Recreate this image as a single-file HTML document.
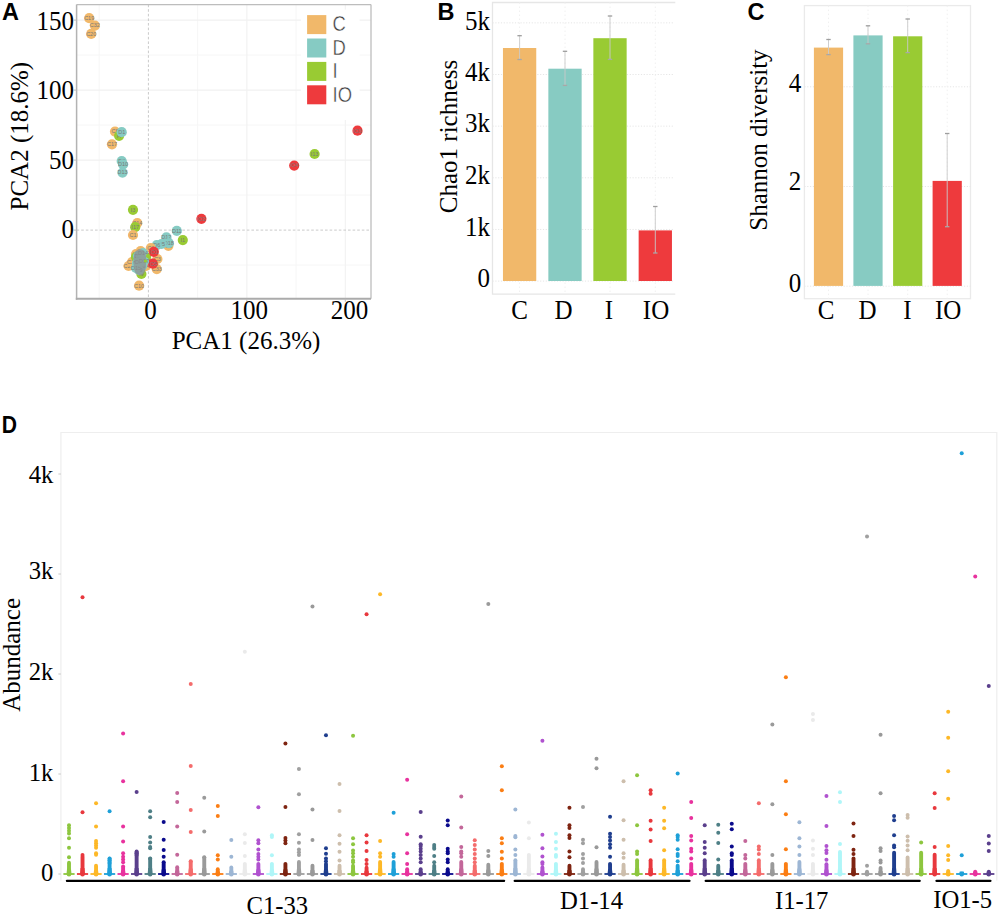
<!DOCTYPE html>
<html><head><meta charset="utf-8"><style>html,body{margin:0;padding:0;background:#fff;width:1000px;height:917px;overflow:hidden}svg{display:block}</style></head><body>
<svg width="1000" height="917" viewBox="0 0 1000 917">
<rect x="0" y="0" width="1000" height="917" fill="#fff"/>
<line x1="99.18" y1="4.6" x2="99.18" y2="298.8" stroke="#F6F6F6" stroke-width="1"/>
<line x1="197.62" y1="4.6" x2="197.62" y2="298.8" stroke="#F6F6F6" stroke-width="1"/>
<line x1="296.08" y1="4.6" x2="296.08" y2="298.8" stroke="#F6F6F6" stroke-width="1"/>
<line x1="76.6" y1="265.10" x2="371.0" y2="265.10" stroke="#F6F6F6" stroke-width="1"/>
<line x1="76.6" y1="195.10" x2="371.0" y2="195.10" stroke="#F6F6F6" stroke-width="1"/>
<line x1="76.6" y1="125.10" x2="371.0" y2="125.10" stroke="#F6F6F6" stroke-width="1"/>
<line x1="76.6" y1="55.10" x2="371.0" y2="55.10" stroke="#F6F6F6" stroke-width="1"/>
<line x1="246.85" y1="4.6" x2="246.85" y2="298.8" stroke="#F1F1F1" stroke-width="1.1"/>
<line x1="345.30" y1="4.6" x2="345.30" y2="298.8" stroke="#F1F1F1" stroke-width="1.1"/>
<line x1="76.6" y1="160.10" x2="371.0" y2="160.10" stroke="#F1F1F1" stroke-width="1.1"/>
<line x1="76.6" y1="90.10" x2="371.0" y2="90.10" stroke="#F1F1F1" stroke-width="1.1"/>
<line x1="76.6" y1="20.10" x2="371.0" y2="20.10" stroke="#F1F1F1" stroke-width="1.1"/>
<line x1="148.40" y1="4.6" x2="148.40" y2="298.8" stroke="#CACACA" stroke-width="1" stroke-dasharray="2.6 2.0"/>
<line x1="76.6" y1="230.10" x2="371.0" y2="230.10" stroke="#CACACA" stroke-width="1" stroke-dasharray="2.6 2.0"/>
<rect x="301" y="9.6" width="58.6" height="110.4" fill="#fff"/>
<rect x="307.1" y="15.10" width="19.2" height="19" fill="#F1B86A"/>
<text transform="translate(332.6,31.40) scale(0.9,1.04)" font-size="20.5" fill="#3c3c3c" stroke="#fff" stroke-width="0.4" font-family='"Liberation Sans", sans-serif'>C</text>
<rect x="307.1" y="38.50" width="19.2" height="19" fill="#86CBC3"/>
<text transform="translate(332.6,54.80) scale(0.9,1.04)" font-size="20.5" fill="#3c3c3c" stroke="#fff" stroke-width="0.4" font-family='"Liberation Sans", sans-serif'>D</text>
<rect x="307.1" y="61.90" width="19.2" height="19" fill="#99CB33"/>
<text transform="translate(332.6,78.20) scale(0.9,1.04)" font-size="20.5" fill="#3c3c3c" stroke="#fff" stroke-width="0.4" font-family='"Liberation Sans", sans-serif'>I</text>
<rect x="307.1" y="85.30" width="19.2" height="19" fill="#EE3A3D"/>
<text transform="translate(332.6,101.60) scale(0.9,1.04)" font-size="20.5" fill="#3c3c3c" stroke="#fff" stroke-width="0.4" font-family='"Liberation Sans", sans-serif'>IO</text>
<line x1="76.6" y1="4.6" x2="371.0" y2="4.6" stroke="#BDBDBD" stroke-width="1.3"/>
<line x1="371.0" y1="4.6" x2="371.0" y2="298.8" stroke="#BDBDBD" stroke-width="1.3"/>
<line x1="76.6" y1="4.6" x2="76.6" y2="299.8" stroke="#B3B3B3" stroke-width="1.5"/>
<line x1="75.8" y1="298.8" x2="371.0" y2="298.8" stroke="#ABABAB" stroke-width="2"/>
<line x1="73.6" y1="230.10" x2="76.6" y2="230.10" stroke="#BBBBBB" stroke-width="1"/>
<line x1="73.6" y1="160.10" x2="76.6" y2="160.10" stroke="#BBBBBB" stroke-width="1"/>
<line x1="73.6" y1="90.10" x2="76.6" y2="90.10" stroke="#BBBBBB" stroke-width="1"/>
<line x1="73.6" y1="20.10" x2="76.6" y2="20.10" stroke="#BBBBBB" stroke-width="1"/>
<line x1="148.40" y1="298.8" x2="148.40" y2="301.8" stroke="#BBBBBB" stroke-width="1"/>
<line x1="246.85" y1="298.8" x2="246.85" y2="301.8" stroke="#BBBBBB" stroke-width="1"/>
<line x1="345.30" y1="298.8" x2="345.30" y2="301.8" stroke="#BBBBBB" stroke-width="1"/>
<circle cx="89.2" cy="18.2" r="5.1" fill="#F1B86A"/>
<text x="89.20" y="20.00" font-size="5.5" text-anchor="middle" fill="#7a7a7a" font-family='"Liberation Sans", sans-serif' font-weight="normal" >C19</text>
<circle cx="94.9" cy="25.6" r="5.1" fill="#F1B86A"/>
<text x="94.90" y="27.40" font-size="5.5" text-anchor="middle" fill="#7a7a7a" font-family='"Liberation Sans", sans-serif' font-weight="normal" >C32</text>
<circle cx="91.2" cy="33.9" r="5.1" fill="#F1B86A"/>
<text x="91.20" y="35.70" font-size="5.5" text-anchor="middle" fill="#7a7a7a" font-family='"Liberation Sans", sans-serif' font-weight="normal" >C20</text>
<circle cx="115" cy="131.6" r="5.1" fill="#F1B86A"/>
<text x="115.00" y="133.40" font-size="5.5" text-anchor="middle" fill="#7a7a7a" font-family='"Liberation Sans", sans-serif' font-weight="normal" >C8</text>
<circle cx="119.1" cy="135.8" r="5.1" fill="#99CB33"/>
<text x="119.10" y="137.60" font-size="5.5" text-anchor="middle" fill="#7a7a7a" font-family='"Liberation Sans", sans-serif' font-weight="normal" >I4</text>
<circle cx="121.7" cy="132.2" r="5.1" fill="#86CBC3"/>
<text x="121.70" y="134.00" font-size="5.5" text-anchor="middle" fill="#7a7a7a" font-family='"Liberation Sans", sans-serif' font-weight="normal" >D1</text>
<circle cx="112" cy="144.3" r="5.1" fill="#F1B86A"/>
<text x="112.00" y="146.10" font-size="5.5" text-anchor="middle" fill="#7a7a7a" font-family='"Liberation Sans", sans-serif' font-weight="normal" >C17</text>
<circle cx="121.7" cy="161" r="5.1" fill="#86CBC3"/>
<text x="121.70" y="162.80" font-size="5.5" text-anchor="middle" fill="#7a7a7a" font-family='"Liberation Sans", sans-serif' font-weight="normal" >D2</text>
<circle cx="123.1" cy="164.5" r="5.1" fill="#86CBC3"/>
<text x="123.10" y="166.30" font-size="5.5" text-anchor="middle" fill="#7a7a7a" font-family='"Liberation Sans", sans-serif' font-weight="normal" >D10</text>
<circle cx="122.5" cy="172.6" r="5.1" fill="#86CBC3"/>
<text x="122.50" y="174.40" font-size="5.5" text-anchor="middle" fill="#7a7a7a" font-family='"Liberation Sans", sans-serif' font-weight="normal" >D13</text>
<circle cx="357.5" cy="130.7" r="5.1" fill="#EE3A3D"/>
<text x="357.50" y="132.50" font-size="5.5" text-anchor="middle" fill="#7a7a7a" font-family='"Liberation Sans", sans-serif' font-weight="normal" >IO3</text>
<circle cx="314.6" cy="154" r="5.1" fill="#99CB33"/>
<text x="314.60" y="155.80" font-size="5.5" text-anchor="middle" fill="#7a7a7a" font-family='"Liberation Sans", sans-serif' font-weight="normal" >I13</text>
<circle cx="294.2" cy="165.6" r="5.1" fill="#EE3A3D"/>
<text x="294.20" y="167.40" font-size="5.5" text-anchor="middle" fill="#7a7a7a" font-family='"Liberation Sans", sans-serif' font-weight="normal" >IO4</text>
<circle cx="201.4" cy="218.8" r="5.1" fill="#EE3A3D"/>
<text x="201.40" y="220.60" font-size="5.5" text-anchor="middle" fill="#7a7a7a" font-family='"Liberation Sans", sans-serif' font-weight="normal" >IO2</text>
<circle cx="133" cy="209.8" r="5.1" fill="#99CB33"/>
<text x="133.00" y="211.60" font-size="5.5" text-anchor="middle" fill="#7a7a7a" font-family='"Liberation Sans", sans-serif' font-weight="normal" >I3</text>
<circle cx="137.3" cy="223" r="5.1" fill="#F1B86A"/>
<text x="137.30" y="224.80" font-size="5.5" text-anchor="middle" fill="#7a7a7a" font-family='"Liberation Sans", sans-serif' font-weight="normal" >C14</text>
<circle cx="135.2" cy="227.2" r="5.1" fill="#99CB33"/>
<text x="135.20" y="229.00" font-size="5.5" text-anchor="middle" fill="#7a7a7a" font-family='"Liberation Sans", sans-serif' font-weight="normal" >I17</text>
<circle cx="133" cy="235" r="5.1" fill="#F1B86A"/>
<text x="133.00" y="236.80" font-size="5.5" text-anchor="middle" fill="#7a7a7a" font-family='"Liberation Sans", sans-serif' font-weight="normal" >C1</text>
<circle cx="168.4" cy="245.8" r="5.1" fill="#F1B86A"/>
<text x="168.40" y="247.60" font-size="5.5" text-anchor="middle" fill="#7a7a7a" font-family='"Liberation Sans", sans-serif' font-weight="normal" >C5</text>
<circle cx="176.8" cy="230.8" r="5.1" fill="#86CBC3"/>
<text x="176.80" y="232.60" font-size="5.5" text-anchor="middle" fill="#7a7a7a" font-family='"Liberation Sans", sans-serif' font-weight="normal" >D11</text>
<circle cx="182.8" cy="240.1" r="5.1" fill="#99CB33"/>
<text x="182.80" y="241.90" font-size="5.5" text-anchor="middle" fill="#7a7a7a" font-family='"Liberation Sans", sans-serif' font-weight="normal" >I1</text>
<circle cx="166.4" cy="237.4" r="5.1" fill="#86CBC3"/>
<text x="166.40" y="239.20" font-size="5.5" text-anchor="middle" fill="#7a7a7a" font-family='"Liberation Sans", sans-serif' font-weight="normal" >D12</text>
<circle cx="168.8" cy="243.2" r="5.1" fill="#86CBC3"/>
<text x="168.80" y="245.00" font-size="5.5" text-anchor="middle" fill="#7a7a7a" font-family='"Liberation Sans", sans-serif' font-weight="normal" >D18</text>
<circle cx="161.6" cy="244" r="5.1" fill="#86CBC3"/>
<text x="161.60" y="245.80" font-size="5.5" text-anchor="middle" fill="#7a7a7a" font-family='"Liberation Sans", sans-serif' font-weight="normal" >D5</text>
<circle cx="156.8" cy="245.2" r="5.1" fill="#86CBC3"/>
<text x="156.80" y="247.00" font-size="5.5" text-anchor="middle" fill="#7a7a7a" font-family='"Liberation Sans", sans-serif' font-weight="normal" >D6</text>
<circle cx="150.8" cy="248" r="5.1" fill="#F1B86A"/>
<text x="150.80" y="249.80" font-size="5.5" text-anchor="middle" fill="#7a7a7a" font-family='"Liberation Sans", sans-serif' font-weight="normal" >C6</text>
<circle cx="140.6" cy="251" r="5.1" fill="#F1B86A"/>
<text x="140.60" y="252.80" font-size="5.5" text-anchor="middle" fill="#7a7a7a" font-family='"Liberation Sans", sans-serif' font-weight="normal" >C9</text>
<circle cx="136" cy="254" r="5.1" fill="#F1B86A"/>
<text x="136.00" y="255.80" font-size="5.5" text-anchor="middle" fill="#7a7a7a" font-family='"Liberation Sans", sans-serif' font-weight="normal" >C2</text>
<circle cx="157.4" cy="259" r="5.1" fill="#F1B86A"/>
<text x="157.40" y="260.80" font-size="5.5" text-anchor="middle" fill="#7a7a7a" font-family='"Liberation Sans", sans-serif' font-weight="normal" >C3</text>
<circle cx="156.8" cy="269.1" r="5.1" fill="#F1B86A"/>
<text x="156.80" y="270.90" font-size="5.5" text-anchor="middle" fill="#7a7a7a" font-family='"Liberation Sans", sans-serif' font-weight="normal" >C33</text>
<circle cx="128.6" cy="266" r="5.1" fill="#F1B86A"/>
<text x="128.60" y="267.80" font-size="5.5" text-anchor="middle" fill="#7a7a7a" font-family='"Liberation Sans", sans-serif' font-weight="normal" >C27</text>
<circle cx="132" cy="262" r="5.1" fill="#F1B86A"/>
<text x="132.00" y="263.80" font-size="5.5" text-anchor="middle" fill="#7a7a7a" font-family='"Liberation Sans", sans-serif' font-weight="normal" >C28</text>
<circle cx="146" cy="266" r="5.1" fill="#F1B86A"/>
<text x="146.00" y="267.80" font-size="5.5" text-anchor="middle" fill="#7a7a7a" font-family='"Liberation Sans", sans-serif' font-weight="normal" >C4</text>
<circle cx="139.1" cy="285.7" r="5.1" fill="#F1B86A"/>
<text x="139.10" y="287.50" font-size="5.5" text-anchor="middle" fill="#7a7a7a" font-family='"Liberation Sans", sans-serif' font-weight="normal" >C10</text>
<circle cx="141.4" cy="274" r="5.1" fill="#99CB33"/>
<text x="141.40" y="275.80" font-size="5.5" text-anchor="middle" fill="#7a7a7a" font-family='"Liberation Sans", sans-serif' font-weight="normal" >I9</text>
<circle cx="146" cy="257" r="5.1" fill="#99CB33"/>
<text x="146.00" y="258.80" font-size="5.5" text-anchor="middle" fill="#7a7a7a" font-family='"Liberation Sans", sans-serif' font-weight="normal" >I5</text>
<circle cx="136" cy="257" r="5.1" fill="#99CB33"/>
<text x="136.00" y="258.80" font-size="5.5" text-anchor="middle" fill="#7a7a7a" font-family='"Liberation Sans", sans-serif' font-weight="normal" >I6</text>
<circle cx="153.8" cy="251.8" r="5.1" fill="#EE3A3D"/>
<text x="153.80" y="253.60" font-size="5.5" text-anchor="middle" fill="#7a7a7a" font-family='"Liberation Sans", sans-serif' font-weight="normal" >IO1</text>
<circle cx="152.8" cy="263.7" r="5.1" fill="#EE3A3D"/>
<text x="152.80" y="265.50" font-size="5.5" text-anchor="middle" fill="#7a7a7a" font-family='"Liberation Sans", sans-serif' font-weight="normal" >IO5</text>
<circle cx="138" cy="256" r="5.1" fill="#86CBC3"/>
<text x="138.00" y="257.80" font-size="5.5" text-anchor="middle" fill="#7a7a7a" font-family='"Liberation Sans", sans-serif' font-weight="normal" >D3</text>
<circle cx="141" cy="259" r="5.1" fill="#86CBC3"/>
<text x="141.00" y="260.80" font-size="5.5" text-anchor="middle" fill="#7a7a7a" font-family='"Liberation Sans", sans-serif' font-weight="normal" >D4</text>
<circle cx="137" cy="263" r="5.1" fill="#86CBC3"/>
<text x="137.00" y="264.80" font-size="5.5" text-anchor="middle" fill="#7a7a7a" font-family='"Liberation Sans", sans-serif' font-weight="normal" >D7</text>
<circle cx="142" cy="266" r="5.1" fill="#86CBC3"/>
<text x="142.00" y="267.80" font-size="5.5" text-anchor="middle" fill="#7a7a7a" font-family='"Liberation Sans", sans-serif' font-weight="normal" >D8</text>
<circle cx="139" cy="270" r="5.1" fill="#86CBC3"/>
<text x="139.00" y="271.80" font-size="5.5" text-anchor="middle" fill="#7a7a7a" font-family='"Liberation Sans", sans-serif' font-weight="normal" >D9</text>
<circle cx="143" cy="253" r="5.1" fill="#86CBC3"/>
<text x="143.00" y="254.80" font-size="5.5" text-anchor="middle" fill="#7a7a7a" font-family='"Liberation Sans", sans-serif' font-weight="normal" >D14</text>
<circle cx="136" cy="268" r="5.1" fill="#86CBC3"/>
<text x="136.00" y="269.80" font-size="5.5" text-anchor="middle" fill="#7a7a7a" font-family='"Liberation Sans", sans-serif' font-weight="normal" >D15</text>
<circle cx="140" cy="262" r="5.1" fill="#86CBC3"/>
<text x="140.00" y="263.80" font-size="5.5" text-anchor="middle" fill="#7a7a7a" font-family='"Liberation Sans", sans-serif' font-weight="normal" >D16</text>
<circle cx="144" cy="261" r="5.1" fill="#86CBC3"/>
<text x="144.00" y="262.80" font-size="5.5" text-anchor="middle" fill="#7a7a7a" font-family='"Liberation Sans", sans-serif' font-weight="normal" >D17</text>
<path d="M135 252 C138 248 143 249 145 252 C147 258 146 266 145 272 C143 276 137 276 135 272 C133 266 133 257 135 252 Z" fill="#8f8f8f" opacity="0.7"/>
<circle cx="148" cy="256" r="2" fill="#99CB33"/><circle cx="145.5" cy="261" r="1.6" fill="#99CB33"/>
<text transform="translate(74.00,238.00) scale(1.0,1.1)" font-size="25" text-anchor="end" fill="#000" font-family='"Liberation Serif", serif'>0</text>
<text transform="translate(74.00,168.50) scale(1.0,1.1)" font-size="25" text-anchor="end" fill="#000" font-family='"Liberation Serif", serif'>50</text>
<text transform="translate(74.00,98.90) scale(1.0,1.1)" font-size="25" text-anchor="end" fill="#000" font-family='"Liberation Serif", serif'>100</text>
<text transform="translate(74.00,30.00) scale(1.0,1.1)" font-size="25" text-anchor="end" fill="#000" font-family='"Liberation Serif", serif'>150</text>
<text transform="translate(150.60,318.60) scale(1.0,1.1)" font-size="25" text-anchor="middle" fill="#000" font-family='"Liberation Serif", serif'>0</text>
<text transform="translate(249.20,318.60) scale(1.0,1.1)" font-size="25" text-anchor="middle" fill="#000" font-family='"Liberation Serif", serif'>100</text>
<text transform="translate(349.50,318.60) scale(1.0,1.1)" font-size="25" text-anchor="middle" fill="#000" font-family='"Liberation Serif", serif'>200</text>
<text x="246.00" y="349.40" font-size="25" text-anchor="middle" fill="#000" font-family='"Liberation Serif", serif' font-weight="normal" >PCA1 (26.3%)</text>
<text transform="translate(27.5,136.2) rotate(-90)" x="0" y="0" font-size="25" text-anchor="middle" font-family='"Liberation Serif", serif'>PCA2 (18.6%)</text>
<text x="2.00" y="20.00" font-size="23.5" text-anchor="start" fill="#000" font-family='"Liberation Sans", sans-serif' font-weight="bold" >A</text>
<path d="M675.3 2.5 L492.5 2.5 L492.5 294.1 L675.3 294.1" fill="none" stroke="#E6E6E6" stroke-width="1.3"/>
<line x1="492.5" y1="281.10" x2="673.3" y2="281.10" stroke="#E6E6E6" stroke-width="1" stroke-dasharray="1.2 1.6"/>
<line x1="492.5" y1="229.45" x2="673.3" y2="229.45" stroke="#E6E6E6" stroke-width="1" stroke-dasharray="1.2 1.6"/>
<line x1="492.5" y1="177.80" x2="673.3" y2="177.80" stroke="#E6E6E6" stroke-width="1" stroke-dasharray="1.2 1.6"/>
<line x1="492.5" y1="126.15" x2="673.3" y2="126.15" stroke="#E6E6E6" stroke-width="1" stroke-dasharray="1.2 1.6"/>
<line x1="492.5" y1="74.50" x2="673.3" y2="74.50" stroke="#E6E6E6" stroke-width="1" stroke-dasharray="1.2 1.6"/>
<line x1="492.5" y1="22.85" x2="673.3" y2="22.85" stroke="#E6E6E6" stroke-width="1" stroke-dasharray="1.2 1.6"/>
<line x1="519.6" y1="2.5" x2="519.6" y2="294.1" stroke="#F0F0F0" stroke-width="1" stroke-dasharray="1.5 2.5"/>
<line x1="565.0" y1="2.5" x2="565.0" y2="294.1" stroke="#F0F0F0" stroke-width="1" stroke-dasharray="1.5 2.5"/>
<line x1="610.0" y1="2.5" x2="610.0" y2="294.1" stroke="#F0F0F0" stroke-width="1" stroke-dasharray="1.5 2.5"/>
<line x1="655.3" y1="2.5" x2="655.3" y2="294.1" stroke="#F0F0F0" stroke-width="1" stroke-dasharray="1.5 2.5"/>
<rect x="502.95" y="48.0" width="33.3" height="233.00" fill="#F1B86A"/>
<rect x="548.35" y="68.7" width="33.3" height="212.30" fill="#87CBC2"/>
<rect x="593.35" y="38.2" width="33.3" height="242.80" fill="#99CB33"/>
<rect x="638.65" y="230.4" width="33.3" height="50.60" fill="#EE3A3D"/>
<line x1="519.6" y1="35.7" x2="519.6" y2="59.5" stroke="#C9C9C9" stroke-width="0.9"/>
<line x1="517.4" y1="35.7" x2="521.8000000000001" y2="35.7" stroke="#9E9E9E" stroke-width="1.3"/>
<line x1="517.4" y1="59.5" x2="521.8000000000001" y2="59.5" stroke="#A8A8A8" stroke-width="1.3"/>
<line x1="565.0" y1="51.3" x2="565.0" y2="85.4" stroke="#C9C9C9" stroke-width="0.9"/>
<line x1="562.8" y1="51.3" x2="567.2" y2="51.3" stroke="#9E9E9E" stroke-width="1.3"/>
<line x1="562.8" y1="85.4" x2="567.2" y2="85.4" stroke="#A8A8A8" stroke-width="1.3"/>
<line x1="610.0" y1="16.0" x2="610.0" y2="59.4" stroke="#C9C9C9" stroke-width="0.9"/>
<line x1="607.8" y1="16.0" x2="612.2" y2="16.0" stroke="#9E9E9E" stroke-width="1.3"/>
<line x1="607.8" y1="59.4" x2="612.2" y2="59.4" stroke="#A8A8A8" stroke-width="1.3"/>
<line x1="655.3" y1="206.5" x2="655.3" y2="253.0" stroke="#C9C9C9" stroke-width="0.9"/>
<line x1="653.0999999999999" y1="206.5" x2="657.5" y2="206.5" stroke="#9E9E9E" stroke-width="1.3"/>
<line x1="653.0999999999999" y1="253.0" x2="657.5" y2="253.0" stroke="#A8A8A8" stroke-width="1.3"/>
<text transform="translate(490.00,287.40) scale(1.0,1.1)" font-size="25" text-anchor="end" fill="#000" font-family='"Liberation Serif", serif'>0</text>
<text transform="translate(490.00,235.75) scale(1.0,1.1)" font-size="25" text-anchor="end" fill="#000" font-family='"Liberation Serif", serif'>1k</text>
<text transform="translate(490.00,184.10) scale(1.0,1.1)" font-size="25" text-anchor="end" fill="#000" font-family='"Liberation Serif", serif'>2k</text>
<text transform="translate(490.00,132.45) scale(1.0,1.1)" font-size="25" text-anchor="end" fill="#000" font-family='"Liberation Serif", serif'>3k</text>
<text transform="translate(490.00,80.80) scale(1.0,1.1)" font-size="25" text-anchor="end" fill="#000" font-family='"Liberation Serif", serif'>4k</text>
<text transform="translate(490.00,30.05) scale(1.0,1.1)" font-size="25" text-anchor="end" fill="#000" font-family='"Liberation Serif", serif'>5k</text>
<text transform="translate(519.60,318.50) scale(1.0,1.1)" font-size="25" text-anchor="middle" fill="#000" font-family='"Liberation Serif", serif'>C</text>
<text transform="translate(563.60,318.50) scale(1.0,1.1)" font-size="25" text-anchor="middle" fill="#000" font-family='"Liberation Serif", serif'>D</text>
<text transform="translate(609.00,318.50) scale(1.0,1.1)" font-size="25" text-anchor="middle" fill="#000" font-family='"Liberation Serif", serif'>I</text>
<text transform="translate(656.00,318.50) scale(1.0,1.1)" font-size="25" text-anchor="middle" fill="#000" font-family='"Liberation Serif", serif'>IO</text>
<text transform="translate(456.9,136.5) rotate(-90)" x="0" y="0" font-size="25" text-anchor="middle" font-family='"Liberation Serif", serif'>Chao1 richness</text>
<text x="437.50" y="19.60" font-size="23.5" text-anchor="start" fill="#000" font-family='"Liberation Sans", sans-serif' font-weight="bold" >B</text>
<rect x="804.4" y="5.6" width="166.10000000000002" height="293.09999999999997" fill="none" stroke="#EAEAEA" stroke-width="1.3"/>
<line x1="804.4" y1="286.20" x2="970.5" y2="286.20" stroke="#E6E6E6" stroke-width="1" stroke-dasharray="1.2 1.6"/>
<line x1="804.4" y1="186.50" x2="970.5" y2="186.50" stroke="#E6E6E6" stroke-width="1" stroke-dasharray="1.2 1.6"/>
<line x1="804.4" y1="86.80" x2="970.5" y2="86.80" stroke="#E6E6E6" stroke-width="1" stroke-dasharray="1.2 1.6"/>
<line x1="828.5" y1="5.6" x2="828.5" y2="298.7" stroke="#F0F0F0" stroke-width="1" stroke-dasharray="1.5 2.5"/>
<line x1="868.0" y1="5.6" x2="868.0" y2="298.7" stroke="#F0F0F0" stroke-width="1" stroke-dasharray="1.5 2.5"/>
<line x1="907.7" y1="5.6" x2="907.7" y2="298.7" stroke="#F0F0F0" stroke-width="1" stroke-dasharray="1.5 2.5"/>
<line x1="947.2" y1="5.6" x2="947.2" y2="298.7" stroke="#F0F0F0" stroke-width="1" stroke-dasharray="1.5 2.5"/>
<rect x="813.90" y="47.6" width="29.2" height="238.30" fill="#F1B86A"/>
<rect x="853.40" y="35.4" width="29.2" height="250.50" fill="#87CBC2"/>
<rect x="893.10" y="36.3" width="29.2" height="249.60" fill="#99CB33"/>
<rect x="932.60" y="180.9" width="29.2" height="105.00" fill="#EE3A3D"/>
<line x1="828.5" y1="39.5" x2="828.5" y2="54.6" stroke="#C9C9C9" stroke-width="0.9"/>
<line x1="826.3" y1="39.5" x2="830.7" y2="39.5" stroke="#9E9E9E" stroke-width="1.3"/>
<line x1="826.3" y1="54.6" x2="830.7" y2="54.6" stroke="#A8A8A8" stroke-width="1.3"/>
<line x1="868.0" y1="25.8" x2="868.0" y2="43.8" stroke="#C9C9C9" stroke-width="0.9"/>
<line x1="865.8" y1="25.8" x2="870.2" y2="25.8" stroke="#9E9E9E" stroke-width="1.3"/>
<line x1="865.8" y1="43.8" x2="870.2" y2="43.8" stroke="#A8A8A8" stroke-width="1.3"/>
<line x1="907.7" y1="19.0" x2="907.7" y2="52.6" stroke="#C9C9C9" stroke-width="0.9"/>
<line x1="905.5" y1="19.0" x2="909.9000000000001" y2="19.0" stroke="#9E9E9E" stroke-width="1.3"/>
<line x1="905.5" y1="52.6" x2="909.9000000000001" y2="52.6" stroke="#A8A8A8" stroke-width="1.3"/>
<line x1="947.2" y1="133.5" x2="947.2" y2="226.7" stroke="#C9C9C9" stroke-width="0.9"/>
<line x1="945.0" y1="133.5" x2="949.4000000000001" y2="133.5" stroke="#9E9E9E" stroke-width="1.3"/>
<line x1="945.0" y1="226.7" x2="949.4000000000001" y2="226.7" stroke="#A8A8A8" stroke-width="1.3"/>
<text transform="translate(801.20,292.20) scale(1.0,1.1)" font-size="25" text-anchor="end" fill="#000" font-family='"Liberation Serif", serif'>0</text>
<text transform="translate(801.20,190.10) scale(1.0,1.1)" font-size="25" text-anchor="end" fill="#000" font-family='"Liberation Serif", serif'>2</text>
<text transform="translate(801.20,92.40) scale(1.0,1.1)" font-size="25" text-anchor="end" fill="#000" font-family='"Liberation Serif", serif'>4</text>
<text transform="translate(826.00,318.80) scale(1.0,1.1)" font-size="25" text-anchor="middle" fill="#000" font-family='"Liberation Serif", serif'>C</text>
<text transform="translate(867.60,318.80) scale(1.0,1.1)" font-size="25" text-anchor="middle" fill="#000" font-family='"Liberation Serif", serif'>D</text>
<text transform="translate(907.40,318.80) scale(1.0,1.1)" font-size="25" text-anchor="middle" fill="#000" font-family='"Liberation Serif", serif'>I</text>
<text transform="translate(948.20,318.80) scale(1.0,1.1)" font-size="25" text-anchor="middle" fill="#000" font-family='"Liberation Serif", serif'>IO</text>
<text transform="translate(766.7,140) rotate(-90)" x="0" y="0" font-size="25" text-anchor="middle" font-family='"Liberation Serif", serif'>Shannon diversity</text>
<text x="747.50" y="19.60" font-size="23.5" text-anchor="start" fill="#000" font-family='"Liberation Sans", sans-serif' font-weight="bold" >C</text>
<path d="M60.9 880.5 L60.9 432.5 L996.8 432.5 L996.8 880.5" fill="none" stroke="#EEEEEE" stroke-width="1.2"/>
<line x1="58.4" y1="874.0" x2="60.9" y2="874.0" stroke="#C8C8C8" stroke-width="1"/>
<line x1="58.4" y1="774.0" x2="60.9" y2="774.0" stroke="#C8C8C8" stroke-width="1"/>
<line x1="58.4" y1="674.0" x2="60.9" y2="674.0" stroke="#C8C8C8" stroke-width="1"/>
<line x1="58.4" y1="574.0" x2="60.9" y2="574.0" stroke="#C8C8C8" stroke-width="1"/>
<line x1="58.4" y1="474.0" x2="60.9" y2="474.0" stroke="#C8C8C8" stroke-width="1"/>
<rect x="67.05" y="860.70" width="3.9" height="13.30" rx="1.95" fill="#8DC63F"/><path d="M67.05 868.80 L66.50 874.00 L71.50 874.00 L70.95 868.80 Z" fill="#8DC63F"/><circle cx="69.00" cy="874.20" r="2.3" fill="#8DC63F"/><rect x="63.40" y="873.10" width="11.2" height="1.8" fill="#8DC63F"/><circle cx="69.00" cy="825.29" r="2.0" fill="#8DC63F"/><circle cx="69.00" cy="827.99" r="2.0" fill="#8DC63F"/><circle cx="69.00" cy="830.69" r="2.0" fill="#8DC63F"/><circle cx="69.00" cy="833.39" r="2.0" fill="#8DC63F"/><circle cx="69.00" cy="838.25" r="2.0" fill="#8DC63F"/><circle cx="69.00" cy="847.79" r="2.0" fill="#8DC63F"/><circle cx="69.00" cy="857.15" r="2.0" fill="#8DC63F"/>
<rect x="80.58" y="854.70" width="3.9" height="19.30" rx="1.95" fill="#E8383D"/><path d="M80.58 868.00 L80.03 874.00 L85.03 874.00 L84.48 868.00 Z" fill="#E8383D"/><circle cx="82.53" cy="874.20" r="2.3" fill="#E8383D"/><rect x="76.93" y="873.10" width="11.2" height="1.8" fill="#E8383D"/><circle cx="82.53" cy="812.15" r="2.0" fill="#E8383D"/><circle cx="82.53" cy="854.99" r="2.0" fill="#E8383D"/><circle cx="82.53" cy="597.30" r="2.0" fill="#E8383D"/>
<rect x="94.10" y="863.70" width="3.9" height="10.30" rx="1.95" fill="#FDB827"/><path d="M94.10 870.00 L93.55 874.00 L98.55 874.00 L98.00 870.00 Z" fill="#FDB827"/><circle cx="96.05" cy="874.20" r="2.3" fill="#FDB827"/><rect x="90.45" y="873.10" width="11.2" height="1.8" fill="#FDB827"/><circle cx="96.05" cy="803.15" r="2.0" fill="#FDB827"/><circle cx="96.05" cy="826.55" r="2.0" fill="#FDB827"/><circle cx="96.05" cy="840.95" r="2.0" fill="#FDB827"/><circle cx="96.05" cy="843.29" r="2.0" fill="#FDB827"/><circle cx="96.05" cy="845.45" r="2.0" fill="#FDB827"/><circle cx="96.05" cy="847.79" r="2.0" fill="#FDB827"/><circle cx="96.05" cy="853.19" r="2.0" fill="#FDB827"/><circle cx="96.05" cy="854.63" r="2.0" fill="#FDB827"/>
<rect x="107.63" y="856.70" width="3.9" height="17.30" rx="1.95" fill="#1EA0D8"/><path d="M107.63 868.00 L107.08 874.00 L112.08 874.00 L111.53 868.00 Z" fill="#1EA0D8"/><circle cx="109.58" cy="874.20" r="2.3" fill="#1EA0D8"/><rect x="103.98" y="873.10" width="11.2" height="1.8" fill="#1EA0D8"/><circle cx="109.58" cy="811.25" r="2.0" fill="#1EA0D8"/><circle cx="109.58" cy="858.59" r="2.0" fill="#1EA0D8"/><circle cx="109.58" cy="860.39" r="2.0" fill="#1EA0D8"/><circle cx="109.58" cy="863.09" r="2.0" fill="#1EA0D8"/>
<rect x="121.15" y="864.40" width="3.9" height="9.60" rx="1.95" fill="#E8329E"/><path d="M121.15 870.28 L120.60 874.00 L125.60 874.00 L125.05 870.28 Z" fill="#E8329E"/><circle cx="123.10" cy="874.20" r="2.3" fill="#E8329E"/><rect x="117.50" y="873.10" width="11.2" height="1.8" fill="#E8329E"/><circle cx="123.10" cy="733.50" r="2.0" fill="#E8329E"/><circle cx="123.10" cy="781.20" r="2.0" fill="#E8329E"/><circle cx="123.10" cy="826.55" r="2.0" fill="#E8329E"/><circle cx="123.10" cy="841.49" r="2.0" fill="#E8329E"/><circle cx="123.10" cy="853.19" r="2.0" fill="#E8329E"/><circle cx="123.10" cy="856.79" r="2.0" fill="#E8329E"/><circle cx="123.10" cy="859.49" r="2.0" fill="#E8329E"/><circle cx="123.10" cy="862.19" r="2.0" fill="#E8329E"/>
<rect x="134.68" y="850.20" width="3.9" height="23.80" rx="1.95" fill="#5A3F8C"/><path d="M134.68 868.00 L134.13 874.00 L139.13 874.00 L138.58 868.00 Z" fill="#5A3F8C"/><circle cx="136.63" cy="874.20" r="2.3" fill="#5A3F8C"/><rect x="131.03" y="873.10" width="11.2" height="1.8" fill="#5A3F8C"/><circle cx="136.63" cy="791.99" r="2.0" fill="#5A3F8C"/><circle cx="136.63" cy="851.39" r="2.0" fill="#5A3F8C"/><circle cx="136.63" cy="853.19" r="2.0" fill="#5A3F8C"/><circle cx="136.63" cy="854.99" r="2.0" fill="#5A3F8C"/>
<rect x="148.21" y="856.70" width="3.9" height="17.30" rx="1.95" fill="#4E7F86"/><path d="M148.21 868.00 L147.66 874.00 L152.66 874.00 L152.11 868.00 Z" fill="#4E7F86"/><circle cx="150.16" cy="874.20" r="2.3" fill="#4E7F86"/><rect x="144.56" y="873.10" width="11.2" height="1.8" fill="#4E7F86"/><circle cx="150.16" cy="811.25" r="2.0" fill="#4E7F86"/><circle cx="150.16" cy="817.19" r="2.0" fill="#4E7F86"/><circle cx="150.16" cy="836.99" r="2.0" fill="#4E7F86"/><circle cx="150.16" cy="842.39" r="2.0" fill="#4E7F86"/><circle cx="150.16" cy="846.89" r="2.0" fill="#4E7F86"/><circle cx="150.16" cy="848.15" r="2.0" fill="#4E7F86"/><circle cx="150.16" cy="858.59" r="2.0" fill="#4E7F86"/>
<rect x="161.73" y="861.70" width="3.9" height="12.30" rx="1.95" fill="#0A0A8C"/><path d="M161.73 869.20 L161.18 874.00 L166.18 874.00 L165.63 869.20 Z" fill="#0A0A8C"/><circle cx="163.68" cy="874.20" r="2.3" fill="#0A0A8C"/><rect x="158.08" y="873.10" width="11.2" height="1.8" fill="#0A0A8C"/><circle cx="163.68" cy="822.05" r="2.0" fill="#0A0A8C"/><circle cx="163.68" cy="839.69" r="2.0" fill="#0A0A8C"/><circle cx="163.68" cy="849.95" r="2.0" fill="#0A0A8C"/><circle cx="163.68" cy="856.79" r="2.0" fill="#0A0A8C"/><circle cx="163.68" cy="862.19" r="2.0" fill="#0A0A8C"/>
<rect x="175.26" y="865.20" width="3.9" height="8.80" rx="1.95" fill="#C3679A"/><path d="M175.26 870.60 L174.71 874.00 L179.71 874.00 L179.16 870.60 Z" fill="#C3679A"/><circle cx="177.21" cy="874.20" r="2.3" fill="#C3679A"/><rect x="171.61" y="873.10" width="11.2" height="1.8" fill="#C3679A"/><circle cx="177.21" cy="792.89" r="2.0" fill="#C3679A"/><circle cx="177.21" cy="801.89" r="2.0" fill="#C3679A"/><circle cx="177.21" cy="826.55" r="2.0" fill="#C3679A"/><circle cx="177.21" cy="854.63" r="2.0" fill="#C3679A"/>
<rect x="188.78" y="859.70" width="3.9" height="14.30" rx="1.95" fill="#F46C6C"/><path d="M188.78 868.40 L188.23 874.00 L193.23 874.00 L192.68 868.40 Z" fill="#F46C6C"/><circle cx="190.73" cy="874.20" r="2.3" fill="#F46C6C"/><rect x="185.13" y="873.10" width="11.2" height="1.8" fill="#F46C6C"/><circle cx="190.73" cy="765.90" r="2.0" fill="#F46C6C"/><circle cx="190.73" cy="809.99" r="2.0" fill="#F46C6C"/><circle cx="190.73" cy="831.95" r="2.0" fill="#F46C6C"/><circle cx="190.73" cy="861.29" r="2.0" fill="#F46C6C"/><circle cx="190.73" cy="683.90" r="2.0" fill="#F46C6C"/>
<rect x="202.31" y="855.70" width="3.9" height="18.30" rx="1.95" fill="#9A9A9A"/><path d="M202.31 868.00 L201.76 874.00 L206.76 874.00 L206.21 868.00 Z" fill="#9A9A9A"/><circle cx="204.26" cy="874.20" r="2.3" fill="#9A9A9A"/><rect x="198.66" y="873.10" width="11.2" height="1.8" fill="#9A9A9A"/><circle cx="204.26" cy="797.75" r="2.0" fill="#9A9A9A"/><circle cx="204.26" cy="831.59" r="2.0" fill="#9A9A9A"/><circle cx="204.26" cy="857.15" r="2.0" fill="#9A9A9A"/>
<rect x="215.84" y="867.30" width="3.9" height="6.70" rx="1.95" fill="#FB7E14"/><path d="M215.84 871.44 L215.29 874.00 L220.29 874.00 L219.74 871.44 Z" fill="#FB7E14"/><circle cx="217.79" cy="874.20" r="2.3" fill="#FB7E14"/><rect x="212.19" y="873.10" width="11.2" height="1.8" fill="#FB7E14"/><circle cx="217.79" cy="806.03" r="2.0" fill="#FB7E14"/><circle cx="217.79" cy="815.93" r="2.0" fill="#FB7E14"/><circle cx="217.79" cy="855.35" r="2.0" fill="#FB7E14"/><circle cx="217.79" cy="859.49" r="2.0" fill="#FB7E14"/>
<rect x="229.36" y="865.50" width="3.9" height="8.50" rx="1.95" fill="#9DB6D4"/><path d="M229.36 870.72 L228.81 874.00 L233.81 874.00 L233.26 870.72 Z" fill="#9DB6D4"/><circle cx="231.31" cy="874.20" r="2.3" fill="#9DB6D4"/><rect x="225.71" y="873.10" width="11.2" height="1.8" fill="#9DB6D4"/><circle cx="231.31" cy="840.05" r="2.0" fill="#9DB6D4"/><circle cx="231.31" cy="856.79" r="2.0" fill="#9DB6D4"/>
<rect x="242.89" y="861.90" width="3.9" height="12.10" rx="1.95" fill="#EAEAEA"/><path d="M242.89 869.28 L242.34 874.00 L247.34 874.00 L246.79 869.28 Z" fill="#EAEAEA"/><circle cx="244.84" cy="874.20" r="2.3" fill="#EAEAEA"/><rect x="239.24" y="873.10" width="11.2" height="1.8" fill="#EAEAEA"/><circle cx="244.84" cy="834.29" r="2.0" fill="#EAEAEA"/><circle cx="244.84" cy="842.93" r="2.0" fill="#EAEAEA"/><circle cx="244.84" cy="855.89" r="2.0" fill="#EAEAEA"/><circle cx="244.84" cy="651.80" r="2.0" fill="#EAEAEA"/>
<rect x="256.41" y="861.90" width="3.9" height="12.10" rx="1.95" fill="#B052CF"/><path d="M256.41 869.28 L255.86 874.00 L260.86 874.00 L260.31 869.28 Z" fill="#B052CF"/><circle cx="258.36" cy="874.20" r="2.3" fill="#B052CF"/><rect x="252.76" y="873.10" width="11.2" height="1.8" fill="#B052CF"/><circle cx="258.36" cy="807.29" r="2.0" fill="#B052CF"/><circle cx="258.36" cy="840.23" r="2.0" fill="#B052CF"/><circle cx="258.36" cy="843.29" r="2.0" fill="#B052CF"/><circle cx="258.36" cy="849.59" r="2.0" fill="#B052CF"/><circle cx="258.36" cy="854.09" r="2.0" fill="#B052CF"/><circle cx="258.36" cy="856.79" r="2.0" fill="#B052CF"/><circle cx="258.36" cy="859.49" r="2.0" fill="#B052CF"/>
<rect x="269.94" y="861.90" width="3.9" height="12.10" rx="1.95" fill="#AFF6F8"/><path d="M269.94 869.28 L269.39 874.00 L274.39 874.00 L273.84 869.28 Z" fill="#AFF6F8"/><circle cx="271.89" cy="874.20" r="2.3" fill="#AFF6F8"/><rect x="266.29" y="873.10" width="11.2" height="1.8" fill="#AFF6F8"/><circle cx="271.89" cy="835.19" r="2.0" fill="#AFF6F8"/><circle cx="271.89" cy="836.99" r="2.0" fill="#AFF6F8"/><circle cx="271.89" cy="855.35" r="2.0" fill="#AFF6F8"/>
<rect x="283.47" y="861.90" width="3.9" height="12.10" rx="1.95" fill="#7E2411"/><path d="M283.47 869.28 L282.92 874.00 L287.92 874.00 L287.37 869.28 Z" fill="#7E2411"/><circle cx="285.42" cy="874.20" r="2.3" fill="#7E2411"/><rect x="279.82" y="873.10" width="11.2" height="1.8" fill="#7E2411"/><circle cx="285.42" cy="743.40" r="2.0" fill="#7E2411"/><circle cx="285.42" cy="806.93" r="2.0" fill="#7E2411"/><circle cx="285.42" cy="837.89" r="2.0" fill="#7E2411"/><circle cx="285.42" cy="840.59" r="2.0" fill="#7E2411"/><circle cx="285.42" cy="843.29" r="2.0" fill="#7E2411"/>
<rect x="296.99" y="860.10" width="3.9" height="13.90" rx="1.95" fill="#A0A0A0"/><path d="M296.99 868.56 L296.44 874.00 L301.44 874.00 L300.89 868.56 Z" fill="#A0A0A0"/><circle cx="298.94" cy="874.20" r="2.3" fill="#A0A0A0"/><rect x="293.34" y="873.10" width="11.2" height="1.8" fill="#A0A0A0"/><circle cx="298.94" cy="768.96" r="2.0" fill="#A0A0A0"/><circle cx="298.94" cy="794.33" r="2.0" fill="#A0A0A0"/><circle cx="298.94" cy="834.29" r="2.0" fill="#A0A0A0"/><circle cx="298.94" cy="842.75" r="2.0" fill="#A0A0A0"/><circle cx="298.94" cy="849.59" r="2.0" fill="#A0A0A0"/><circle cx="298.94" cy="852.29" r="2.0" fill="#A0A0A0"/><circle cx="298.94" cy="854.99" r="2.0" fill="#A0A0A0"/>
<rect x="310.52" y="863.70" width="3.9" height="10.30" rx="1.95" fill="#999999"/><path d="M310.52 870.00 L309.97 874.00 L314.97 874.00 L314.42 870.00 Z" fill="#999999"/><circle cx="312.47" cy="874.20" r="2.3" fill="#999999"/><rect x="306.87" y="873.10" width="11.2" height="1.8" fill="#999999"/><circle cx="312.47" cy="809.45" r="2.0" fill="#999999"/><circle cx="312.47" cy="840.05" r="2.0" fill="#999999"/><circle cx="312.47" cy="606.40" r="2.0" fill="#999999"/>
<rect x="324.04" y="861.90" width="3.9" height="12.10" rx="1.95" fill="#1F3E8E"/><path d="M324.04 869.28 L323.49 874.00 L328.49 874.00 L327.94 869.28 Z" fill="#1F3E8E"/><circle cx="325.99" cy="874.20" r="2.3" fill="#1F3E8E"/><rect x="320.39" y="873.10" width="11.2" height="1.8" fill="#1F3E8E"/><circle cx="325.99" cy="735.30" r="2.0" fill="#1F3E8E"/><circle cx="325.99" cy="848.15" r="2.0" fill="#1F3E8E"/><circle cx="325.99" cy="853.73" r="2.0" fill="#1F3E8E"/><circle cx="325.99" cy="858.59" r="2.0" fill="#1F3E8E"/><circle cx="325.99" cy="861.29" r="2.0" fill="#1F3E8E"/>
<rect x="337.57" y="863.70" width="3.9" height="10.30" rx="1.95" fill="#CDBEAC"/><path d="M337.57 870.00 L337.02 874.00 L342.02 874.00 L341.47 870.00 Z" fill="#CDBEAC"/><circle cx="339.52" cy="874.20" r="2.3" fill="#CDBEAC"/><rect x="333.92" y="873.10" width="11.2" height="1.8" fill="#CDBEAC"/><circle cx="339.52" cy="783.89" r="2.0" fill="#CDBEAC"/><circle cx="339.52" cy="810.89" r="2.0" fill="#CDBEAC"/><circle cx="339.52" cy="835.19" r="2.0" fill="#CDBEAC"/><circle cx="339.52" cy="843.83" r="2.0" fill="#CDBEAC"/><circle cx="339.52" cy="851.75" r="2.0" fill="#CDBEAC"/><circle cx="339.52" cy="860.39" r="2.0" fill="#CDBEAC"/>
<rect x="351.10" y="863.70" width="3.9" height="10.30" rx="1.95" fill="#8DC63F"/><path d="M351.10 870.00 L350.55 874.00 L355.55 874.00 L355.00 870.00 Z" fill="#8DC63F"/><circle cx="353.05" cy="874.20" r="2.3" fill="#8DC63F"/><rect x="347.45" y="873.10" width="11.2" height="1.8" fill="#8DC63F"/><circle cx="353.05" cy="735.84" r="2.0" fill="#8DC63F"/><circle cx="353.05" cy="838.25" r="2.0" fill="#8DC63F"/><circle cx="353.05" cy="844.19" r="2.0" fill="#8DC63F"/><circle cx="353.05" cy="850.49" r="2.0" fill="#8DC63F"/><circle cx="353.05" cy="853.19" r="2.0" fill="#8DC63F"/><circle cx="353.05" cy="856.79" r="2.0" fill="#8DC63F"/><circle cx="353.05" cy="860.39" r="2.0" fill="#8DC63F"/><circle cx="353.05" cy="862.19" r="2.0" fill="#8DC63F"/>
<rect x="364.62" y="865.70" width="3.9" height="8.30" rx="1.95" fill="#E8383D"/><path d="M364.62 870.80 L364.07 874.00 L369.07 874.00 L368.52 870.80 Z" fill="#E8383D"/><circle cx="366.57" cy="874.20" r="2.3" fill="#E8383D"/><rect x="360.97" y="873.10" width="11.2" height="1.8" fill="#E8383D"/><circle cx="366.57" cy="835.19" r="2.0" fill="#E8383D"/><circle cx="366.57" cy="842.39" r="2.0" fill="#E8383D"/><circle cx="366.57" cy="851.03" r="2.0" fill="#E8383D"/><circle cx="366.57" cy="860.03" r="2.0" fill="#E8383D"/><circle cx="366.57" cy="863.99" r="2.0" fill="#E8383D"/><circle cx="366.57" cy="614.30" r="2.0" fill="#E8383D"/>
<rect x="378.15" y="860.10" width="3.9" height="13.90" rx="1.95" fill="#FDB827"/><path d="M378.15 868.56 L377.60 874.00 L382.60 874.00 L382.05 868.56 Z" fill="#FDB827"/><circle cx="380.10" cy="874.20" r="2.3" fill="#FDB827"/><rect x="374.50" y="873.10" width="11.2" height="1.8" fill="#FDB827"/><circle cx="380.10" cy="840.95" r="2.0" fill="#FDB827"/><circle cx="380.10" cy="853.19" r="2.0" fill="#FDB827"/><circle cx="380.10" cy="856.79" r="2.0" fill="#FDB827"/><circle cx="380.10" cy="594.30" r="2.0" fill="#FDB827"/>
<rect x="391.67" y="860.10" width="3.9" height="13.90" rx="1.95" fill="#1EA0D8"/><path d="M391.67 868.56 L391.12 874.00 L396.12 874.00 L395.57 868.56 Z" fill="#1EA0D8"/><circle cx="393.62" cy="874.20" r="2.3" fill="#1EA0D8"/><rect x="388.02" y="873.10" width="11.2" height="1.8" fill="#1EA0D8"/><circle cx="393.62" cy="812.69" r="2.0" fill="#1EA0D8"/><circle cx="393.62" cy="854.09" r="2.0" fill="#1EA0D8"/><circle cx="393.62" cy="856.79" r="2.0" fill="#1EA0D8"/>
<rect x="405.20" y="867.30" width="3.9" height="6.70" rx="1.95" fill="#E8329E"/><path d="M405.20 871.44 L404.65 874.00 L409.65 874.00 L409.10 871.44 Z" fill="#E8329E"/><circle cx="407.15" cy="874.20" r="2.3" fill="#E8329E"/><rect x="401.55" y="873.10" width="11.2" height="1.8" fill="#E8329E"/><circle cx="407.15" cy="779.76" r="2.0" fill="#E8329E"/><circle cx="407.15" cy="834.29" r="2.0" fill="#E8329E"/><circle cx="407.15" cy="853.19" r="2.0" fill="#E8329E"/><circle cx="407.15" cy="863.99" r="2.0" fill="#E8329E"/>
<rect x="418.73" y="867.30" width="3.9" height="6.70" rx="1.95" fill="#5A3F8C"/><path d="M418.73 871.44 L418.18 874.00 L423.18 874.00 L422.63 871.44 Z" fill="#5A3F8C"/><circle cx="420.68" cy="874.20" r="2.3" fill="#5A3F8C"/><rect x="415.08" y="873.10" width="11.2" height="1.8" fill="#5A3F8C"/><circle cx="420.68" cy="811.97" r="2.0" fill="#5A3F8C"/><circle cx="420.68" cy="836.63" r="2.0" fill="#5A3F8C"/><circle cx="420.68" cy="844.19" r="2.0" fill="#5A3F8C"/><circle cx="420.68" cy="845.99" r="2.0" fill="#5A3F8C"/><circle cx="420.68" cy="848.69" r="2.0" fill="#5A3F8C"/><circle cx="420.68" cy="851.39" r="2.0" fill="#5A3F8C"/><circle cx="420.68" cy="854.99" r="2.0" fill="#5A3F8C"/><circle cx="420.68" cy="858.59" r="2.0" fill="#5A3F8C"/><circle cx="420.68" cy="862.19" r="2.0" fill="#5A3F8C"/>
<rect x="432.25" y="863.70" width="3.9" height="10.30" rx="1.95" fill="#4E7F86"/><path d="M432.25 870.00 L431.70 874.00 L436.70 874.00 L436.15 870.00 Z" fill="#4E7F86"/><circle cx="434.20" cy="874.20" r="2.3" fill="#4E7F86"/><rect x="428.60" y="873.10" width="11.2" height="1.8" fill="#4E7F86"/><circle cx="434.20" cy="845.09" r="2.0" fill="#4E7F86"/><circle cx="434.20" cy="846.89" r="2.0" fill="#4E7F86"/><circle cx="434.20" cy="848.69" r="2.0" fill="#4E7F86"/><circle cx="434.20" cy="855.89" r="2.0" fill="#4E7F86"/><circle cx="434.20" cy="862.19" r="2.0" fill="#4E7F86"/>
<rect x="445.78" y="867.30" width="3.9" height="6.70" rx="1.95" fill="#0A0A8C"/><path d="M445.78 871.44 L445.23 874.00 L450.23 874.00 L449.68 871.44 Z" fill="#0A0A8C"/><circle cx="447.73" cy="874.20" r="2.3" fill="#0A0A8C"/><rect x="442.13" y="873.10" width="11.2" height="1.8" fill="#0A0A8C"/><circle cx="447.73" cy="820.43" r="2.0" fill="#0A0A8C"/><circle cx="447.73" cy="825.29" r="2.0" fill="#0A0A8C"/><circle cx="447.73" cy="848.69" r="2.0" fill="#0A0A8C"/><circle cx="447.73" cy="851.39" r="2.0" fill="#0A0A8C"/><circle cx="447.73" cy="853.19" r="2.0" fill="#0A0A8C"/><circle cx="447.73" cy="859.49" r="2.0" fill="#0A0A8C"/><circle cx="447.73" cy="862.19" r="2.0" fill="#0A0A8C"/>
<rect x="459.30" y="860.10" width="3.9" height="13.90" rx="1.95" fill="#C3679A"/><path d="M459.30 868.56 L458.75 874.00 L463.75 874.00 L463.20 868.56 Z" fill="#C3679A"/><circle cx="461.25" cy="874.20" r="2.3" fill="#C3679A"/><rect x="455.65" y="873.10" width="11.2" height="1.8" fill="#C3679A"/><circle cx="461.25" cy="796.49" r="2.0" fill="#C3679A"/><circle cx="461.25" cy="827.45" r="2.0" fill="#C3679A"/><circle cx="461.25" cy="846.89" r="2.0" fill="#C3679A"/><circle cx="461.25" cy="851.39" r="2.0" fill="#C3679A"/><circle cx="461.25" cy="853.19" r="2.0" fill="#C3679A"/><circle cx="461.25" cy="856.79" r="2.0" fill="#C3679A"/>
<rect x="472.83" y="863.70" width="3.9" height="10.30" rx="1.95" fill="#F46C6C"/><path d="M472.83 870.00 L472.28 874.00 L477.28 874.00 L476.73 870.00 Z" fill="#F46C6C"/><circle cx="474.78" cy="874.20" r="2.3" fill="#F46C6C"/><rect x="469.18" y="873.10" width="11.2" height="1.8" fill="#F46C6C"/><circle cx="474.78" cy="840.23" r="2.0" fill="#F46C6C"/><circle cx="474.78" cy="845.09" r="2.0" fill="#F46C6C"/><circle cx="474.78" cy="849.59" r="2.0" fill="#F46C6C"/><circle cx="474.78" cy="854.09" r="2.0" fill="#F46C6C"/><circle cx="474.78" cy="858.59" r="2.0" fill="#F46C6C"/><circle cx="474.78" cy="862.19" r="2.0" fill="#F46C6C"/>
<rect x="486.36" y="862.70" width="3.9" height="11.30" rx="1.95" fill="#9A9A9A"/><path d="M486.36 869.60 L485.81 874.00 L490.81 874.00 L490.26 869.60 Z" fill="#9A9A9A"/><circle cx="488.31" cy="874.20" r="2.3" fill="#9A9A9A"/><rect x="482.71" y="873.10" width="11.2" height="1.8" fill="#9A9A9A"/><circle cx="488.31" cy="851.03" r="2.0" fill="#9A9A9A"/><circle cx="488.31" cy="855.89" r="2.0" fill="#9A9A9A"/><circle cx="488.31" cy="604.00" r="2.0" fill="#9A9A9A"/>
<rect x="499.88" y="861.90" width="3.9" height="12.10" rx="1.95" fill="#FB7E14"/><path d="M499.88 869.28 L499.33 874.00 L504.33 874.00 L503.78 869.28 Z" fill="#FB7E14"/><circle cx="501.83" cy="874.20" r="2.3" fill="#FB7E14"/><rect x="496.23" y="873.10" width="11.2" height="1.8" fill="#FB7E14"/><circle cx="501.83" cy="766.26" r="2.0" fill="#FB7E14"/><circle cx="501.83" cy="790.19" r="2.0" fill="#FB7E14"/><circle cx="501.83" cy="838.25" r="2.0" fill="#FB7E14"/><circle cx="501.83" cy="843.29" r="2.0" fill="#FB7E14"/><circle cx="501.83" cy="851.75" r="2.0" fill="#FB7E14"/><circle cx="501.83" cy="858.59" r="2.0" fill="#FB7E14"/>
<rect x="513.41" y="858.30" width="3.9" height="15.70" rx="1.95" fill="#9DB6D4"/><path d="M513.41 868.00 L512.86 874.00 L517.86 874.00 L517.31 868.00 Z" fill="#9DB6D4"/><circle cx="515.36" cy="874.20" r="2.3" fill="#9DB6D4"/><rect x="509.76" y="873.10" width="11.2" height="1.8" fill="#9DB6D4"/><circle cx="515.36" cy="809.45" r="2.0" fill="#9DB6D4"/><circle cx="515.36" cy="836.09" r="2.0" fill="#9DB6D4"/><circle cx="515.36" cy="837.35" r="2.0" fill="#9DB6D4"/><circle cx="515.36" cy="849.59" r="2.0" fill="#9DB6D4"/><circle cx="515.36" cy="854.99" r="2.0" fill="#9DB6D4"/>
<rect x="526.93" y="852.90" width="3.9" height="21.10" rx="1.95" fill="#EAEAEA"/><path d="M526.93 868.00 L526.38 874.00 L531.38 874.00 L530.83 868.00 Z" fill="#EAEAEA"/><circle cx="528.88" cy="874.20" r="2.3" fill="#EAEAEA"/><rect x="523.28" y="873.10" width="11.2" height="1.8" fill="#EAEAEA"/><circle cx="528.88" cy="822.59" r="2.0" fill="#EAEAEA"/><circle cx="528.88" cy="838.25" r="2.0" fill="#EAEAEA"/>
<rect x="540.46" y="865.50" width="3.9" height="8.50" rx="1.95" fill="#B052CF"/><path d="M540.46 870.72 L539.91 874.00 L544.91 874.00 L544.36 870.72 Z" fill="#B052CF"/><circle cx="542.41" cy="874.20" r="2.3" fill="#B052CF"/><rect x="536.81" y="873.10" width="11.2" height="1.8" fill="#B052CF"/><circle cx="542.41" cy="740.70" r="2.0" fill="#B052CF"/><circle cx="542.41" cy="834.83" r="2.0" fill="#B052CF"/><circle cx="542.41" cy="848.15" r="2.0" fill="#B052CF"/><circle cx="542.41" cy="856.43" r="2.0" fill="#B052CF"/><circle cx="542.41" cy="862.19" r="2.0" fill="#B052CF"/><circle cx="542.41" cy="863.99" r="2.0" fill="#B052CF"/>
<rect x="553.99" y="861.90" width="3.9" height="12.10" rx="1.95" fill="#AFF6F8"/><path d="M553.99 869.28 L553.44 874.00 L558.44 874.00 L557.89 869.28 Z" fill="#AFF6F8"/><circle cx="555.94" cy="874.20" r="2.3" fill="#AFF6F8"/><rect x="550.34" y="873.10" width="11.2" height="1.8" fill="#AFF6F8"/><circle cx="555.94" cy="833.75" r="2.0" fill="#AFF6F8"/><circle cx="555.94" cy="842.03" r="2.0" fill="#AFF6F8"/><circle cx="555.94" cy="848.69" r="2.0" fill="#AFF6F8"/><circle cx="555.94" cy="854.99" r="2.0" fill="#AFF6F8"/><circle cx="555.94" cy="856.79" r="2.0" fill="#AFF6F8"/>
<rect x="567.51" y="863.70" width="3.9" height="10.30" rx="1.95" fill="#7E2411"/><path d="M567.51 870.00 L566.96 874.00 L571.96 874.00 L571.41 870.00 Z" fill="#7E2411"/><circle cx="569.46" cy="874.20" r="2.3" fill="#7E2411"/><rect x="563.86" y="873.10" width="11.2" height="1.8" fill="#7E2411"/><circle cx="569.46" cy="807.83" r="2.0" fill="#7E2411"/><circle cx="569.46" cy="825.29" r="2.0" fill="#7E2411"/><circle cx="569.46" cy="827.99" r="2.0" fill="#7E2411"/><circle cx="569.46" cy="835.19" r="2.0" fill="#7E2411"/><circle cx="569.46" cy="837.89" r="2.0" fill="#7E2411"/><circle cx="569.46" cy="851.39" r="2.0" fill="#7E2411"/><circle cx="569.46" cy="857.15" r="2.0" fill="#7E2411"/>
<rect x="581.04" y="867.30" width="3.9" height="6.70" rx="1.95" fill="#A0A0A0"/><path d="M581.04 871.44 L580.49 874.00 L585.49 874.00 L584.94 871.44 Z" fill="#A0A0A0"/><circle cx="582.99" cy="874.20" r="2.3" fill="#A0A0A0"/><rect x="577.39" y="873.10" width="11.2" height="1.8" fill="#A0A0A0"/><circle cx="582.99" cy="806.93" r="2.0" fill="#A0A0A0"/><circle cx="582.99" cy="839.69" r="2.0" fill="#A0A0A0"/><circle cx="582.99" cy="843.29" r="2.0" fill="#A0A0A0"/><circle cx="582.99" cy="854.09" r="2.0" fill="#A0A0A0"/><circle cx="582.99" cy="858.59" r="2.0" fill="#A0A0A0"/><circle cx="582.99" cy="863.09" r="2.0" fill="#A0A0A0"/>
<rect x="594.56" y="860.10" width="3.9" height="13.90" rx="1.95" fill="#999999"/><path d="M594.56 868.56 L594.01 874.00 L599.01 874.00 L598.46 868.56 Z" fill="#999999"/><circle cx="596.51" cy="874.20" r="2.3" fill="#999999"/><rect x="590.91" y="873.10" width="11.2" height="1.8" fill="#999999"/><circle cx="596.51" cy="758.70" r="2.0" fill="#999999"/><circle cx="596.51" cy="768.24" r="2.0" fill="#999999"/><circle cx="596.51" cy="847.25" r="2.0" fill="#999999"/>
<rect x="608.09" y="861.90" width="3.9" height="12.10" rx="1.95" fill="#1F3E8E"/><path d="M608.09 869.28 L607.54 874.00 L612.54 874.00 L611.99 869.28 Z" fill="#1F3E8E"/><circle cx="610.04" cy="874.20" r="2.3" fill="#1F3E8E"/><rect x="604.44" y="873.10" width="11.2" height="1.8" fill="#1F3E8E"/><circle cx="610.04" cy="816.65" r="2.0" fill="#1F3E8E"/><circle cx="610.04" cy="833.75" r="2.0" fill="#1F3E8E"/><circle cx="610.04" cy="836.99" r="2.0" fill="#1F3E8E"/><circle cx="610.04" cy="840.59" r="2.0" fill="#1F3E8E"/><circle cx="610.04" cy="844.19" r="2.0" fill="#1F3E8E"/><circle cx="610.04" cy="847.79" r="2.0" fill="#1F3E8E"/><circle cx="610.04" cy="856.79" r="2.0" fill="#1F3E8E"/>
<rect x="621.62" y="862.80" width="3.9" height="11.20" rx="1.95" fill="#CDBEAC"/><path d="M621.62 869.64 L621.07 874.00 L626.07 874.00 L625.52 869.64 Z" fill="#CDBEAC"/><circle cx="623.57" cy="874.20" r="2.3" fill="#CDBEAC"/><rect x="617.97" y="873.10" width="11.2" height="1.8" fill="#CDBEAC"/><circle cx="623.57" cy="781.20" r="2.0" fill="#CDBEAC"/><circle cx="623.57" cy="820.25" r="2.0" fill="#CDBEAC"/><circle cx="623.57" cy="839.69" r="2.0" fill="#CDBEAC"/><circle cx="623.57" cy="853.19" r="2.0" fill="#CDBEAC"/><circle cx="623.57" cy="857.69" r="2.0" fill="#CDBEAC"/>
<rect x="635.14" y="858.30" width="3.9" height="15.70" rx="1.95" fill="#8DC63F"/><path d="M635.14 868.00 L634.59 874.00 L639.59 874.00 L639.04 868.00 Z" fill="#8DC63F"/><circle cx="637.09" cy="874.20" r="2.3" fill="#8DC63F"/><rect x="631.49" y="873.10" width="11.2" height="1.8" fill="#8DC63F"/><circle cx="637.09" cy="775.26" r="2.0" fill="#8DC63F"/><circle cx="637.09" cy="825.29" r="2.0" fill="#8DC63F"/><circle cx="637.09" cy="851.39" r="2.0" fill="#8DC63F"/><circle cx="637.09" cy="854.09" r="2.0" fill="#8DC63F"/>
<rect x="648.67" y="858.30" width="3.9" height="15.70" rx="1.95" fill="#E8383D"/><path d="M648.67 868.00 L648.12 874.00 L653.12 874.00 L652.57 868.00 Z" fill="#E8383D"/><circle cx="650.62" cy="874.20" r="2.3" fill="#E8383D"/><rect x="645.02" y="873.10" width="11.2" height="1.8" fill="#E8383D"/><circle cx="650.62" cy="790.19" r="2.0" fill="#E8383D"/><circle cx="650.62" cy="793.79" r="2.0" fill="#E8383D"/><circle cx="650.62" cy="820.79" r="2.0" fill="#E8383D"/><circle cx="650.62" cy="829.43" r="2.0" fill="#E8383D"/><circle cx="650.62" cy="840.95" r="2.0" fill="#E8383D"/>
<rect x="662.19" y="858.30" width="3.9" height="15.70" rx="1.95" fill="#FDB827"/><path d="M662.19 868.00 L661.64 874.00 L666.64 874.00 L666.09 868.00 Z" fill="#FDB827"/><circle cx="664.14" cy="874.20" r="2.3" fill="#FDB827"/><rect x="658.54" y="873.10" width="11.2" height="1.8" fill="#FDB827"/><circle cx="664.14" cy="807.65" r="2.0" fill="#FDB827"/><circle cx="664.14" cy="820.79" r="2.0" fill="#FDB827"/><circle cx="664.14" cy="828.35" r="2.0" fill="#FDB827"/><circle cx="664.14" cy="850.13" r="2.0" fill="#FDB827"/>
<rect x="675.72" y="863.70" width="3.9" height="10.30" rx="1.95" fill="#1EA0D8"/><path d="M675.72 870.00 L675.17 874.00 L680.17 874.00 L679.62 870.00 Z" fill="#1EA0D8"/><circle cx="677.67" cy="874.20" r="2.3" fill="#1EA0D8"/><rect x="672.07" y="873.10" width="11.2" height="1.8" fill="#1EA0D8"/><circle cx="677.67" cy="773.46" r="2.0" fill="#1EA0D8"/><circle cx="677.67" cy="835.19" r="2.0" fill="#1EA0D8"/><circle cx="677.67" cy="836.99" r="2.0" fill="#1EA0D8"/><circle cx="677.67" cy="839.69" r="2.0" fill="#1EA0D8"/><circle cx="677.67" cy="849.23" r="2.0" fill="#1EA0D8"/><circle cx="677.67" cy="854.09" r="2.0" fill="#1EA0D8"/><circle cx="677.67" cy="855.89" r="2.0" fill="#1EA0D8"/><circle cx="677.67" cy="861.29" r="2.0" fill="#1EA0D8"/>
<rect x="689.25" y="861.90" width="3.9" height="12.10" rx="1.95" fill="#E8329E"/><path d="M689.25 869.28 L688.70 874.00 L693.70 874.00 L693.15 869.28 Z" fill="#E8329E"/><circle cx="691.20" cy="874.20" r="2.3" fill="#E8329E"/><rect x="685.60" y="873.10" width="11.2" height="1.8" fill="#E8329E"/><circle cx="691.20" cy="801.89" r="2.0" fill="#E8329E"/><circle cx="691.20" cy="818.09" r="2.0" fill="#E8329E"/><circle cx="691.20" cy="836.09" r="2.0" fill="#E8329E"/><circle cx="691.20" cy="840.59" r="2.0" fill="#E8329E"/><circle cx="691.20" cy="848.69" r="2.0" fill="#E8329E"/><circle cx="691.20" cy="851.39" r="2.0" fill="#E8329E"/><circle cx="691.20" cy="858.59" r="2.0" fill="#E8329E"/>
<rect x="702.77" y="858.30" width="3.9" height="15.70" rx="1.95" fill="#5A3F8C"/><path d="M702.77 868.00 L702.22 874.00 L707.22 874.00 L706.67 868.00 Z" fill="#5A3F8C"/><circle cx="704.72" cy="874.20" r="2.3" fill="#5A3F8C"/><rect x="699.12" y="873.10" width="11.2" height="1.8" fill="#5A3F8C"/><circle cx="704.72" cy="825.29" r="2.0" fill="#5A3F8C"/><circle cx="704.72" cy="842.03" r="2.0" fill="#5A3F8C"/><circle cx="704.72" cy="847.79" r="2.0" fill="#5A3F8C"/><circle cx="704.72" cy="853.19" r="2.0" fill="#5A3F8C"/>
<rect x="716.30" y="863.70" width="3.9" height="10.30" rx="1.95" fill="#4E7F86"/><path d="M716.30 870.00 L715.75 874.00 L720.75 874.00 L720.20 870.00 Z" fill="#4E7F86"/><circle cx="718.25" cy="874.20" r="2.3" fill="#4E7F86"/><rect x="712.65" y="873.10" width="11.2" height="1.8" fill="#4E7F86"/><circle cx="718.25" cy="824.75" r="2.0" fill="#4E7F86"/><circle cx="718.25" cy="832.85" r="2.0" fill="#4E7F86"/><circle cx="718.25" cy="842.93" r="2.0" fill="#4E7F86"/><circle cx="718.25" cy="859.49" r="2.0" fill="#4E7F86"/>
<rect x="729.82" y="858.30" width="3.9" height="15.70" rx="1.95" fill="#0A0A8C"/><path d="M729.82 868.00 L729.27 874.00 L734.27 874.00 L733.72 868.00 Z" fill="#0A0A8C"/><circle cx="731.77" cy="874.20" r="2.3" fill="#0A0A8C"/><rect x="726.17" y="873.10" width="11.2" height="1.8" fill="#0A0A8C"/><circle cx="731.77" cy="823.85" r="2.0" fill="#0A0A8C"/><circle cx="731.77" cy="829.25" r="2.0" fill="#0A0A8C"/><circle cx="731.77" cy="846.53" r="2.0" fill="#0A0A8C"/><circle cx="731.77" cy="853.19" r="2.0" fill="#0A0A8C"/><circle cx="731.77" cy="854.99" r="2.0" fill="#0A0A8C"/>
<rect x="743.35" y="861.90" width="3.9" height="12.10" rx="1.95" fill="#C3679A"/><path d="M743.35 869.28 L742.80 874.00 L747.80 874.00 L747.25 869.28 Z" fill="#C3679A"/><circle cx="745.30" cy="874.20" r="2.3" fill="#C3679A"/><rect x="739.70" y="873.10" width="11.2" height="1.8" fill="#C3679A"/><circle cx="745.30" cy="840.95" r="2.0" fill="#C3679A"/><circle cx="745.30" cy="854.99" r="2.0" fill="#C3679A"/><circle cx="745.30" cy="858.59" r="2.0" fill="#C3679A"/>
<rect x="756.88" y="858.30" width="3.9" height="15.70" rx="1.95" fill="#F46C6C"/><path d="M756.88 868.00 L756.33 874.00 L761.33 874.00 L760.78 868.00 Z" fill="#F46C6C"/><circle cx="758.83" cy="874.20" r="2.3" fill="#F46C6C"/><rect x="753.23" y="873.10" width="11.2" height="1.8" fill="#F46C6C"/><circle cx="758.83" cy="803.15" r="2.0" fill="#F46C6C"/><circle cx="758.83" cy="846.53" r="2.0" fill="#F46C6C"/><circle cx="758.83" cy="849.59" r="2.0" fill="#F46C6C"/><circle cx="758.83" cy="854.09" r="2.0" fill="#F46C6C"/>
<rect x="770.40" y="861.90" width="3.9" height="12.10" rx="1.95" fill="#9A9A9A"/><path d="M770.40 869.28 L769.85 874.00 L774.85 874.00 L774.30 869.28 Z" fill="#9A9A9A"/><circle cx="772.35" cy="874.20" r="2.3" fill="#9A9A9A"/><rect x="766.75" y="873.10" width="11.2" height="1.8" fill="#9A9A9A"/><circle cx="772.35" cy="724.50" r="2.0" fill="#9A9A9A"/><circle cx="772.35" cy="804.23" r="2.0" fill="#9A9A9A"/><circle cx="772.35" cy="854.99" r="2.0" fill="#9A9A9A"/>
<rect x="783.93" y="861.90" width="3.9" height="12.10" rx="1.95" fill="#FB7E14"/><path d="M783.93 869.28 L783.38 874.00 L788.38 874.00 L787.83 869.28 Z" fill="#FB7E14"/><circle cx="785.88" cy="874.20" r="2.3" fill="#FB7E14"/><rect x="780.28" y="873.10" width="11.2" height="1.8" fill="#FB7E14"/><circle cx="785.88" cy="781.20" r="2.0" fill="#FB7E14"/><circle cx="785.88" cy="814.13" r="2.0" fill="#FB7E14"/><circle cx="785.88" cy="849.23" r="2.0" fill="#FB7E14"/><circle cx="785.88" cy="677.20" r="2.0" fill="#FB7E14"/>
<rect x="797.45" y="860.10" width="3.9" height="13.90" rx="1.95" fill="#9DB6D4"/><path d="M797.45 868.56 L796.90 874.00 L801.90 874.00 L801.35 868.56 Z" fill="#9DB6D4"/><circle cx="799.40" cy="874.20" r="2.3" fill="#9DB6D4"/><rect x="793.80" y="873.10" width="11.2" height="1.8" fill="#9DB6D4"/><circle cx="799.40" cy="822.23" r="2.0" fill="#9DB6D4"/><circle cx="799.40" cy="838.25" r="2.0" fill="#9DB6D4"/><circle cx="799.40" cy="846.53" r="2.0" fill="#9DB6D4"/><circle cx="799.40" cy="854.99" r="2.0" fill="#9DB6D4"/>
<rect x="810.98" y="861.90" width="3.9" height="12.10" rx="1.95" fill="#EAEAEA"/><path d="M810.98 869.28 L810.43 874.00 L815.43 874.00 L814.88 869.28 Z" fill="#EAEAEA"/><circle cx="812.93" cy="874.20" r="2.3" fill="#EAEAEA"/><rect x="807.33" y="873.10" width="11.2" height="1.8" fill="#EAEAEA"/><circle cx="812.93" cy="840.59" r="2.0" fill="#EAEAEA"/><circle cx="812.93" cy="848.69" r="2.0" fill="#EAEAEA"/><circle cx="812.93" cy="854.99" r="2.0" fill="#EAEAEA"/><circle cx="812.93" cy="714.00" r="2.0" fill="#EAEAEA"/><circle cx="812.93" cy="720.00" r="2.0" fill="#EAEAEA"/>
<rect x="824.51" y="862.20" width="3.9" height="11.80" rx="1.95" fill="#B052CF"/><path d="M824.51 869.40 L823.96 874.00 L828.96 874.00 L828.41 869.40 Z" fill="#B052CF"/><circle cx="826.46" cy="874.20" r="2.3" fill="#B052CF"/><rect x="820.86" y="873.10" width="11.2" height="1.8" fill="#B052CF"/><circle cx="826.46" cy="796.00" r="2.0" fill="#B052CF"/><circle cx="826.46" cy="826.02" r="2.0" fill="#B052CF"/><circle cx="826.46" cy="845.97" r="2.0" fill="#B052CF"/><circle cx="826.46" cy="850.15" r="2.0" fill="#B052CF"/><circle cx="826.46" cy="853.00" r="2.0" fill="#B052CF"/><circle cx="826.46" cy="859.65" r="2.0" fill="#B052CF"/>
<rect x="838.03" y="849.90" width="3.9" height="24.10" rx="1.95" fill="#AFF6F8"/><path d="M838.03 868.00 L837.48 874.00 L842.48 874.00 L841.93 868.00 Z" fill="#AFF6F8"/><circle cx="839.98" cy="874.20" r="2.3" fill="#AFF6F8"/><rect x="834.38" y="873.10" width="11.2" height="1.8" fill="#AFF6F8"/><circle cx="839.98" cy="792.20" r="2.0" fill="#AFF6F8"/><circle cx="839.98" cy="802.08" r="2.0" fill="#AFF6F8"/><circle cx="839.98" cy="843.88" r="2.0" fill="#AFF6F8"/>
<rect x="851.56" y="856.50" width="3.9" height="17.50" rx="1.95" fill="#7E2411"/><path d="M851.56 868.00 L851.01 874.00 L856.01 874.00 L855.46 868.00 Z" fill="#7E2411"/><circle cx="853.51" cy="874.20" r="2.3" fill="#7E2411"/><rect x="847.91" y="873.10" width="11.2" height="1.8" fill="#7E2411"/><circle cx="853.51" cy="823.55" r="2.0" fill="#7E2411"/><circle cx="853.51" cy="835.90" r="2.0" fill="#7E2411"/><circle cx="853.51" cy="849.77" r="2.0" fill="#7E2411"/><circle cx="853.51" cy="853.95" r="2.0" fill="#7E2411"/>
<rect x="865.08" y="869.80" width="3.9" height="4.20" rx="1.95" fill="#A0A0A0"/><path d="M865.08 871.50 L864.53 874.00 L869.53 874.00 L868.98 871.50 Z" fill="#A0A0A0"/><circle cx="867.03" cy="874.20" r="2.3" fill="#A0A0A0"/><rect x="861.43" y="873.10" width="11.2" height="1.8" fill="#A0A0A0"/><circle cx="867.03" cy="865.73" r="2.0" fill="#A0A0A0"/><circle cx="867.03" cy="536.50" r="2.0" fill="#A0A0A0"/>
<rect x="878.61" y="866.00" width="3.9" height="8.00" rx="1.95" fill="#999999"/><path d="M878.61 870.92 L878.06 874.00 L883.06 874.00 L882.51 870.92 Z" fill="#999999"/><circle cx="880.56" cy="874.20" r="2.3" fill="#999999"/><rect x="874.96" y="873.10" width="11.2" height="1.8" fill="#999999"/><circle cx="880.56" cy="734.82" r="2.0" fill="#999999"/><circle cx="880.56" cy="793.15" r="2.0" fill="#999999"/><circle cx="880.56" cy="848.25" r="2.0" fill="#999999"/><circle cx="880.56" cy="851.10" r="2.0" fill="#999999"/><circle cx="880.56" cy="860.60" r="2.0" fill="#999999"/><circle cx="880.56" cy="862.50" r="2.0" fill="#999999"/>
<rect x="892.14" y="850.80" width="3.9" height="23.20" rx="1.95" fill="#1F3E8E"/><path d="M892.14 868.00 L891.59 874.00 L896.59 874.00 L896.04 868.00 Z" fill="#1F3E8E"/><circle cx="894.09" cy="874.20" r="2.3" fill="#1F3E8E"/><rect x="888.49" y="873.10" width="11.2" height="1.8" fill="#1F3E8E"/><circle cx="894.09" cy="815.95" r="2.0" fill="#1F3E8E"/><circle cx="894.09" cy="820.32" r="2.0" fill="#1F3E8E"/><circle cx="894.09" cy="835.33" r="2.0" fill="#1F3E8E"/><circle cx="894.09" cy="845.40" r="2.0" fill="#1F3E8E"/><circle cx="894.09" cy="847.30" r="2.0" fill="#1F3E8E"/>
<rect x="905.66" y="855.60" width="3.9" height="18.40" rx="1.95" fill="#CDBEAC"/><path d="M905.66 868.00 L905.11 874.00 L910.11 874.00 L909.56 868.00 Z" fill="#CDBEAC"/><circle cx="907.61" cy="874.20" r="2.3" fill="#CDBEAC"/><rect x="902.01" y="873.10" width="11.2" height="1.8" fill="#CDBEAC"/><circle cx="907.61" cy="815.00" r="2.0" fill="#CDBEAC"/><circle cx="907.61" cy="817.85" r="2.0" fill="#CDBEAC"/><circle cx="907.61" cy="836.47" r="2.0" fill="#CDBEAC"/><circle cx="907.61" cy="840.65" r="2.0" fill="#CDBEAC"/><circle cx="907.61" cy="845.40" r="2.0" fill="#CDBEAC"/><circle cx="907.61" cy="850.15" r="2.0" fill="#CDBEAC"/>
<rect x="919.19" y="850.80" width="3.9" height="23.20" rx="1.95" fill="#8DC63F"/><path d="M919.19 868.00 L918.64 874.00 L923.64 874.00 L923.09 868.00 Z" fill="#8DC63F"/><circle cx="921.14" cy="874.20" r="2.3" fill="#8DC63F"/><rect x="915.54" y="873.10" width="11.2" height="1.8" fill="#8DC63F"/><circle cx="921.14" cy="842.55" r="2.0" fill="#8DC63F"/>
<rect x="932.71" y="852.70" width="3.9" height="21.30" rx="1.95" fill="#E8383D"/><path d="M932.71 868.00 L932.16 874.00 L937.16 874.00 L936.61 868.00 Z" fill="#E8383D"/><circle cx="934.66" cy="874.20" r="2.3" fill="#E8383D"/><rect x="929.06" y="873.10" width="11.2" height="1.8" fill="#E8383D"/><circle cx="934.66" cy="793.15" r="2.0" fill="#E8383D"/><circle cx="934.66" cy="807.97" r="2.0" fill="#E8383D"/><circle cx="934.66" cy="846.92" r="2.0" fill="#E8383D"/>
<rect x="946.24" y="868.90" width="3.9" height="5.10" rx="1.95" fill="#FDB827"/><path d="M946.24 871.50 L945.69 874.00 L950.69 874.00 L950.14 871.50 Z" fill="#FDB827"/><circle cx="948.19" cy="874.20" r="2.3" fill="#FDB827"/><rect x="942.59" y="873.10" width="11.2" height="1.8" fill="#FDB827"/><circle cx="948.19" cy="737.67" r="2.0" fill="#FDB827"/><circle cx="948.19" cy="771.30" r="2.0" fill="#FDB827"/><circle cx="948.19" cy="798.85" r="2.0" fill="#FDB827"/><circle cx="948.19" cy="845.97" r="2.0" fill="#FDB827"/><circle cx="948.19" cy="855.28" r="2.0" fill="#FDB827"/><circle cx="948.19" cy="860.03" r="2.0" fill="#FDB827"/><circle cx="948.19" cy="711.70" r="2.0" fill="#FDB827"/>
<rect x="959.77" y="871.70" width="3.9" height="2.30" rx="1.95" fill="#1EA0D8"/><path d="M959.77 871.50 L959.22 874.00 L964.22 874.00 L963.67 871.50 Z" fill="#1EA0D8"/><circle cx="961.72" cy="874.20" r="2.3" fill="#1EA0D8"/><rect x="956.12" y="873.10" width="11.2" height="1.8" fill="#1EA0D8"/><circle cx="961.72" cy="855.28" r="2.0" fill="#1EA0D8"/><circle cx="961.72" cy="453.30" r="2.0" fill="#1EA0D8"/>
<rect x="973.29" y="869.80" width="3.9" height="4.20" rx="1.95" fill="#E8329E"/><path d="M973.29 871.50 L972.74 874.00 L977.74 874.00 L977.19 871.50 Z" fill="#E8329E"/><circle cx="975.24" cy="874.20" r="2.3" fill="#E8329E"/><rect x="969.64" y="873.10" width="11.2" height="1.8" fill="#E8329E"/><circle cx="975.24" cy="576.40" r="2.0" fill="#E8329E"/>
<rect x="986.82" y="869.80" width="3.9" height="4.20" rx="1.95" fill="#5A3F8C"/><path d="M986.82 871.50 L986.27 874.00 L991.27 874.00 L990.72 871.50 Z" fill="#5A3F8C"/><circle cx="988.77" cy="874.20" r="2.3" fill="#5A3F8C"/><rect x="983.17" y="873.10" width="11.2" height="1.8" fill="#5A3F8C"/><circle cx="988.77" cy="835.90" r="2.0" fill="#5A3F8C"/><circle cx="988.77" cy="843.50" r="2.0" fill="#5A3F8C"/><circle cx="988.77" cy="851.10" r="2.0" fill="#5A3F8C"/><circle cx="988.77" cy="686.00" r="2.0" fill="#5A3F8C"/>
<line x1="66.95" y1="880.8" x2="504.05" y2="880.8" stroke="#000" stroke-width="2.35" stroke-linecap="round"/>
<line x1="514.75" y1="880.8" x2="689.45" y2="880.8" stroke="#000" stroke-width="2.35" stroke-linecap="round"/>
<line x1="705.75" y1="880.8" x2="919.65" y2="880.8" stroke="#000" stroke-width="2.35" stroke-linecap="round"/>
<line x1="936.55" y1="880.8" x2="990.35" y2="880.8" stroke="#000" stroke-width="2.35" stroke-linecap="round"/>
<text transform="translate(53.40,881.00) scale(1.0,1.05)" font-size="24.7" text-anchor="end" fill="#000" font-family='"Liberation Serif", serif'>0</text>
<text transform="translate(53.40,781.40) scale(1.0,1.05)" font-size="24.7" text-anchor="end" fill="#000" font-family='"Liberation Serif", serif'>1k</text>
<text transform="translate(53.40,679.70) scale(1.0,1.05)" font-size="24.7" text-anchor="end" fill="#000" font-family='"Liberation Serif", serif'>2k</text>
<text transform="translate(53.40,579.00) scale(1.0,1.05)" font-size="24.7" text-anchor="end" fill="#000" font-family='"Liberation Serif", serif'>3k</text>
<text transform="translate(53.40,482.60) scale(1.0,1.05)" font-size="24.7" text-anchor="end" fill="#000" font-family='"Liberation Serif", serif'>4k</text>
<text x="277.30" y="914.40" font-size="24.7" text-anchor="middle" fill="#000" font-family='"Liberation Serif", serif' font-weight="normal" >C1-33</text>
<text x="591.50" y="908.50" font-size="24.7" text-anchor="middle" fill="#000" font-family='"Liberation Serif", serif' font-weight="normal" >D1-14</text>
<text x="801.70" y="908.50" font-size="24.7" text-anchor="middle" fill="#000" font-family='"Liberation Serif", serif' font-weight="normal" >I1-17</text>
<text x="962.70" y="908.00" font-size="24.7" text-anchor="middle" fill="#000" font-family='"Liberation Serif", serif' font-weight="normal" >IO1-5</text>
<text transform="translate(19.8,654.9) rotate(-90)" x="0" y="0" font-size="25" text-anchor="middle" font-family='"Liberation Serif", serif'>Abundance</text>
<text transform="translate(1.8,432.7) scale(0.9,1)" font-size="23.5" font-family='"Liberation Sans", sans-serif' font-weight="bold">D</text>
</svg>
</body></html>
